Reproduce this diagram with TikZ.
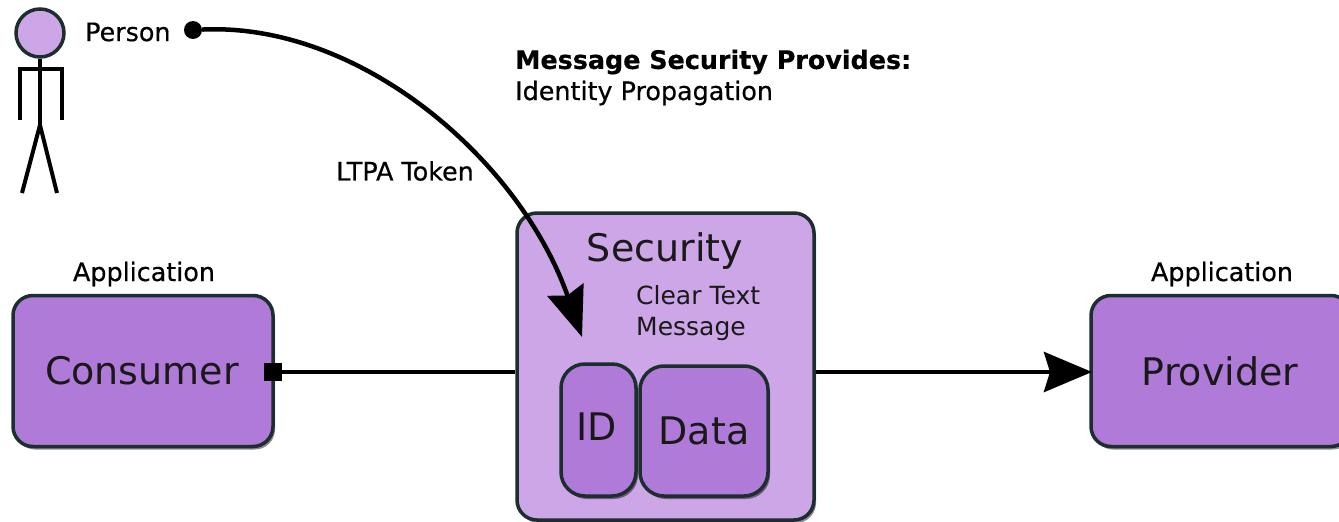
\documentclass[tikz,border=0pt]{standalone}
\usepackage{fontspec}
\setmainfont{DejaVu Sans}
\newfontfamily\heavyfont[FakeBold=0.5]{DejaVu Sans}
\newfontfamily\titlefont[FakeBold=0.6]{DejaVu Sans Bold}
\usetikzlibrary{arrows.meta,shadows}

\definecolor{boxfill}{HTML}{B07AD8}
\definecolor{outerfill}{HTML}{CCA6E6}
\definecolor{edgecol}{HTML}{1C2E2E}

\tikzset{
    appbox/.style={draw=edgecol, line width=3.5pt, fill=boxfill, rounded corners=20pt, inner sep=0pt,
        drop shadow={shadow xshift=2pt, shadow yshift=-3pt, fill=black, opacity=0.45}},
    outerbox/.style={appbox, fill=outerfill},
    bigtext/.style={font=\fontsize{38}{44}\selectfont, text=black!90},
    midtext/.style={font=\fontsize{25}{31}\selectfont, text=black!90, align=left},
    smalltext/.style={font=\heavyfont\fontsize{25.4}{30}\selectfont, text=black, inner sep=0pt},
    stick/.style={line width=4pt, black}
}

\begin{document}
\begin{tikzpicture}[x=1pt, y=-1pt]
    \useasboundingbox (0,0) rectangle (1339,522);
    \clip (0,0) rectangle (1339,522);

    % boxes
    \node[appbox, minimum width=260pt, minimum height=151pt] (consumer) at (143,371) {};
    \node[appbox, minimum width=260pt, minimum height=151pt] (provider) at (1221,371) {};
    \node[outerbox, minimum width=297pt, minimum height=307pt] (security) at (665.5,366.5) {};
    \node[appbox, rounded corners=24pt, minimum width=75pt, minimum height=132pt] (idbox) at (598.5,430) {};
    \node[appbox, rounded corners=24pt, minimum width=128pt, minimum height=130pt] (databox) at (704,431) {};

    % box texts
    \node[bigtext] (consumerlabel) at (142,371) {Consumer};
    \node[bigtext] (providerlabel) at (1220,371) {Provider};
    \node[bigtext] (securitylabel) at (665,251) {Security};
    \node[bigtext] (idlabel) at (597,427) {ID};
    \node[bigtext] (datalabel) at (704,431) {Data};
    \node[midtext, anchor=west, inner sep=0pt] (cleartext) at (636,313) {Clear Text\\Message};

    % other texts
    \node[smalltext] (appleft) at (144,274) {Application};
    \node[smalltext] (appright) at (1222,274) {Application};
    \node[smalltext, anchor=west] (personlabel) at (85,32) {Person};
    \node[smalltext] (tokenlabel) at (405,171) {LTPA Token};
    \node[smalltext, anchor=west, font=\titlefont\fontsize{25.4}{30}\selectfont] (msgtitle) at (515,62) {Message Security Provides:};
    \node[smalltext, anchor=west] (msgline) at (515,93) {Identity Propagation};

    % person
    \node[circle, draw=edgecol, line width=3.5pt, fill=outerfill, minimum size=48pt, inner sep=0pt] (head) at (40,33) {};
    \coordinate (hip) at (40,125);
    \coordinate (armleft) at (20,120);
    \coordinate (armright) at (62,120);
    \coordinate (footleft) at (22,193);
    \coordinate (footright) at (57,193);
    \draw[stick] (head) -- (hip);
    \draw[stick] (armleft) |- (40,69) -| (armright);
    \draw[stick] (footleft) -- (hip) -- (footright);

    % connectors
    \node[circle, fill=black, minimum size=18pt, inner sep=0pt] (tokenstart) at (193,30) {};
    \node[fill=black, minimum size=18pt, inner sep=0pt] (consumerport) at (273,372) {};
    \coordinate (tokenend) at (582,337);
    \coordinate (providerin) at (1092,372);
    \draw[line width=4.5pt] (consumerport) -- (security.west |- consumerport);
    \draw[line width=4.5pt, -{Stealth[length=48pt, width=40pt, inset=6pt]}] (security.east |- consumerport) -- (providerin);
    \draw[line width=4.5pt, -{Stealth[length=50pt, width=38pt, inset=6pt]}] (tokenstart) .. controls (360,22) and (520,160) .. (tokenend);
\end{tikzpicture}
\end{document}
